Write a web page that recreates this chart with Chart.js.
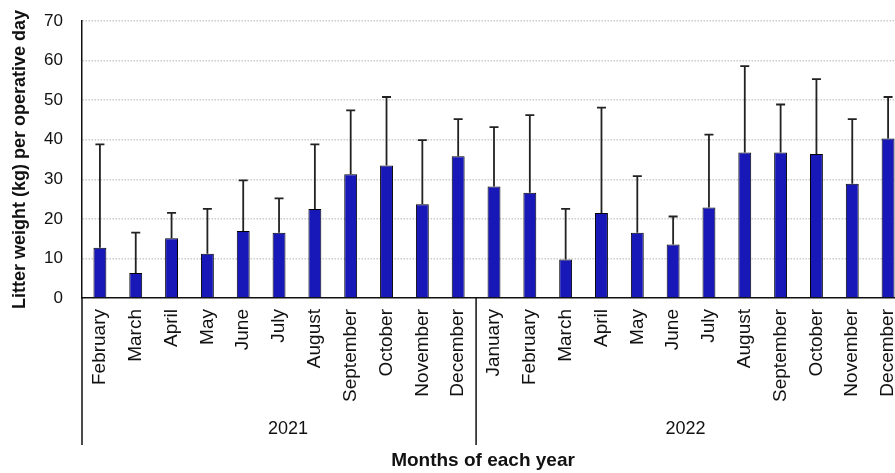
<!DOCTYPE html>
<html>
<head>
<meta charset="utf-8">
<script src="https://cdn.jsdelivr.net/npm/chart.js@4"></script>
<style>
  html, body { margin: 0; padding: 0; background: #fff; overflow: hidden; }
  #wrap { width: 906px; height: 473px; }
</style>
</head>
<body>
<div id="wrap"><canvas id="chart" width="906" height="473"></canvas></div>
<script>
// --- data ---
const months2021 = ["February", "March", "April", "May", "June", "July", "August",
    "September", "October", "November", "December"];
const months2022 = ["January", "February", "March", "April", "May", "June", "July",
    "August", "September", "October", "November", "December"];
const years = ["2021", "2022"];

const means2021 = [12.7, 6.3, 15.1, 11.2, 16.9, 16.5, 22.5, 31.3, 33.5, 23.7, 35.8];
const errors2021 = [26.1, 10.2, 6.4, 11.3, 12.8, 8.7, 16.3, 16.1, 17.3, 16.2, 9.4];
const means2022 = [28.2, 26.6, 9.7, 21.5, 16.5, 13.5, 22.9, 36.8, 36.8, 36.4, 28.9, 40.3];
const errors2022 = [15.0, 19.6, 12.8, 26.6, 14.3, 7.1, 18.4, 21.8, 12.1, 18.9, 16.3, 10.5];

const yTitle = "Litter weight (kg) per operative day";
const xTitle = "Months of each year";

// --- styles ---
const chartProps = {
    font: "'Liberation Sans', Arial, sans-serif",
    barColor: "#1818b8",
    barBorder: "#000",
    errorColor: "#222",
    gridColor: "#cccccc",
    axisColor: "#111",
    textColor: "#111",
    axisBottom: 445
};

const labels = [...months2021, ...months2022];
const means = [...means2021, ...means2022];
const errors = [...errors2021, ...errors2022];
const groups = [months2021.length, months2022.length];

// error bars (upper whisker with cap)
const errorBarPlugin = {
    id: "errorBars",
    afterDatasetsDraw(chart) {
        const ctx = chart.ctx;
        const meta = chart.getDatasetMeta(0);
        const y = chart.scales.y;
        ctx.save();
        ctx.strokeStyle = chartProps.errorColor;
        ctx.lineWidth = 1.8;
        meta.data.forEach((bar, i) => {
            const top = y.getPixelForValue(means[i] + errors[i]);
            const base = y.getPixelForValue(means[i]);
            ctx.beginPath();
            ctx.moveTo(bar.x, base);
            ctx.lineTo(bar.x, top);
            ctx.moveTo(bar.x - 4.5, top);
            ctx.lineTo(bar.x + 4.5, top);
            ctx.stroke();
        });
        ctx.restore();
    }
};

// multi-level axis: year separators, year labels, axis titles
const groupAxisPlugin = {
    id: "groupAxis",
    afterDraw(chart) {
        const ctx = chart.ctx;
        const area = chart.chartArea;
        const x = chart.scales.x;
        const step = x.getPixelForValue(1) - x.getPixelForValue(0);
        ctx.save();
        ctx.strokeStyle = chartProps.axisColor;
        ctx.lineWidth = 1.5;
        // y axis line continued down
        ctx.beginPath();
        ctx.moveTo(area.left, area.bottom);
        ctx.lineTo(area.left, chartProps.axisBottom);
        // separators between years
        let start = 0;
        groups.forEach((n, g) => {
            const endPx = x.getPixelForValue(start + n - 1) + step / 2;
            if (g < groups.length - 1) {
                ctx.moveTo(endPx, area.bottom);
                ctx.lineTo(endPx, chartProps.axisBottom);
            }
            start += n;
        });
        ctx.stroke();

        ctx.fillStyle = chartProps.textColor;
        ctx.textAlign = "center";
        ctx.textBaseline = "middle";
        ctx.font = "18px " + chartProps.font;
        start = 0;
        groups.forEach((n, g) => {
            const l = x.getPixelForValue(start) - step / 2;
            const r = Math.min(x.getPixelForValue(start + n - 1) + step / 2, 895);
            ctx.fillText(years[g], (l + r) / 2 + (g === 0 ? 9 : 0), 429);
            start += n;
        });

        ctx.font = "bold 19px " + chartProps.font;
        ctx.fillText(xTitle, 483, 461);

        ctx.translate(20, (area.top + area.bottom) / 2);
        ctx.rotate(-Math.PI / 2);
        ctx.font = "bold 18px " + chartProps.font;
        ctx.fillText(yTitle, 0, 0);
        ctx.restore();
    }
};

new Chart(document.getElementById("chart"), {
    type: "bar",
    data: {
        labels: labels,
        datasets: [{
            label: "Litter weight",
            data: means,
            backgroundColor: chartProps.barColor,
            borderColor: chartProps.barBorder,
            borderWidth: 1,
            barPercentage: 0.36,
            categoryPercentage: 1
        }]
    },
    options: {
        responsive: false,
        animation: false,
        devicePixelRatio: 1,
        layout: { padding: { top: 21, right: 0, bottom: 0, left: 0 } },
        scales: {
            x: {
                grid: { display: false, drawTicks: false },
                border: { color: chartProps.axisColor, width: 1.5 },
                ticks: {
                    color: chartProps.textColor,
                    font: { family: chartProps.font, size: 19 },
                    minRotation: 90,
                    maxRotation: 90,
                    autoSkip: false,
                    padding: 11
                },
                afterFit: scale => {
                    scale.height = 175;
                    scale.paddingLeft = 0;
                    scale.paddingRight = 0;
                }
            },
            y: {
                min: 0,
                max: 70,
                ticks: {
                    stepSize: 10,
                    color: chartProps.textColor,
                    font: { family: chartProps.font, size: 17 },
                    padding: 19
                },
                grid: {
                    drawTicks: false,
                    color: ctx => ctx.tick && ctx.tick.value === 0 ? "rgba(0,0,0,0)" : chartProps.gridColor,
                    lineWidth: 1.5
                },
                // in v4 border.dash sets the dash of the grid lines
                border: { color: chartProps.axisColor, width: 1.5, dash: [1.5, 1.5] },
                afterFit: scale => {
                    scale.width = 82;
                    scale.paddingTop = 0;
                }
            }
        },
        plugins: {
            legend: { display: false },
            tooltip: { enabled: false }
        }
    },
    plugins: [errorBarPlugin, groupAxisPlugin]
});
</script>
</body>
</html>
